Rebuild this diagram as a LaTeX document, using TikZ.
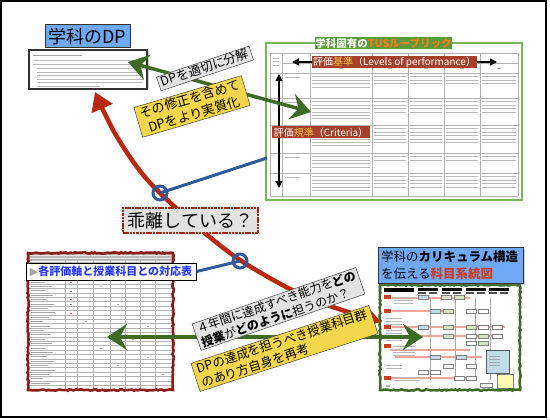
\documentclass[tikz,border=0pt]{standalone}
\usepackage{fontspec}
\setmainfont{Noto Sans CJK JP}
\newfontfamily\dejavu{DejaVu Sans}
\usetikzlibrary{arrows.meta,decorations.pathmorphing,shadows}
\definecolor{dpblue}{HTML}{6FA8F5}
\definecolor{redarc}{HTML}{B8290F}
\definecolor{bluel}{HTML}{2F5B9B}
\definecolor{chalk}{HTML}{3D6B26}
\definecolor{ylab}{HTML}{F3D64B}
\definecolor{glab}{HTML}{E2E2E2}
\definecolor{rgreen}{HTML}{5B9B3C}
\definecolor{rborder}{HTML}{7AB55C}
\definecolor{brick}{HTML}{A5402A}
\definecolor{gold}{HTML}{F6C445}
\definecolor{tusorange}{HTML}{FF7A1A}
\definecolor{tblred}{HTML}{8C1D14}
\definecolor{txtblue}{HTML}{2A3CF0}
\definecolor{kred}{HTML}{D13B1D}
\definecolor{pinkline}{HTML}{EFA59A}
\definecolor{lgreen}{HTML}{D5E5BE}
\definecolor{lblue}{HTML}{BFDCEA}
\begin{document}
\begin{tikzpicture}[x=1pt,y=-1pt,
 txt/.style={gray!55,line width=0.8pt},
 gridl/.style={gray!60,line width=0.4pt},
 graylabel/.style={fill=glab,draw=gray!50!black,line width=0.5pt,inner xsep=3pt,inner ysep=1pt},
 yellowlabel/.style={fill=ylab,draw=gray!50!black,line width=0.5pt,inner xsep=4pt,inner ysep=1.5pt},
 bluebox/.style={fill=dpblue,draw=black!80,line width=1pt},
 redarcstyle/.style={redarc,line width=4.5pt,{Triangle[length=18pt,width=22pt]}-{Triangle[length=18pt,width=22pt]}},
 chalkarrow/.style={chalk,line width=3.5pt,{Stealth[length=20pt,width=26pt,inset=7pt]}-{Stealth[length=20pt,width=26pt,inset=7pt]}},
 ring/.style={draw=bluel,line width=3pt,circle,minimum size=14pt,inner sep=0pt},
 blueline/.style={bluel,line width=3pt},
 bkarrow/.style={black,line width=1.5pt,-{Triangle[length=7pt,width=7pt]}},
 rough/.style={decorate,decoration={random steps,segment length=2pt,amplitude=0.7pt}},
]
\useasboundingbox (0,0) rectangle (550,420);
\fill[white] (0,0) rectangle (550,420);
\draw[line width=2pt] (1,1) rectangle (546,417);

% ---------- DP title and document ----------
\node[bluebox,font=\fontsize{18}{20}\selectfont,minimum width=85pt,minimum height=23pt,inner sep=1pt] (dptitle) at (87.5,36.5) {学科のDP};
\node[draw=gray!40!black,line width=1.2pt,fill=white,minimum width=118pt,minimum height=39pt,inner sep=0pt,
  drop shadow={opacity=0.35,shadow xshift=1.5pt,shadow yshift=-1.5pt}] (dpdoc) at (88,69.5) {};
\draw[gray!70,line width=0.9pt] (33,55) -- (82,55);
\foreach \y in {60.5,64} \draw[txt] (33,\y) -- (143,\y);
\foreach \y in {68.5,72,75.5,79,82.5} \draw[txt] (37,\y) -- (143,\y);
\draw[txt] (37,86) -- (100,86);

% ---------- Rubric ----------
\draw[rborder,line width=1.5pt,fill=white] (266,43) rectangle (522,200);
\foreach \x in {270,282,310,372,408,444,480,518} \draw[gridl] (\x,53) -- (\x,196);
\foreach \y in {53,73,98,125,153,173,196} \draw[gridl] (270,\y) -- (518,\y);
\draw[gridl] (282,63) -- (518,63);
\foreach \y in {58,61.5,65} \draw[txt,line width=0.6pt] (273,\y) -- (279,\y);
\foreach \x in {341,390,426,462,499} \draw[txt,line width=0.6pt] (\x-2,68) -- (\x+2,68);
\foreach \ya/\na/\nb in {73/4/3,98/6/4,125/6/5,153/4/2,173/5/4}{
  \foreach \i in {1,...,\na} \draw[txt] (312,\ya+0.5+3.4*\i) -- (370,\ya+0.5+3.4*\i);
  \foreach \xa/\xb in {372/408,408/444,444/480,480/518}{
    \foreach \i in {1,...,\nb} \draw[txt] (\xa+2,\ya+0.5+3.4*\i) -- (\xb-2,\ya+0.5+3.4*\i);
  }
  \draw[txt] (285,\ya+4) -- (300,\ya+4);
}
\node[fill=rgreen,text=white,font=\bfseries\fontsize{10.5}{12}\selectfont,minimum width=127pt,minimum height=12pt,inner sep=0pt] (rtitle) at (383.5,43.5) {学科固有の\textcolor{tusorange}{TUSルーブリック}};
\node[fill=brick,text=white,font=\fontsize{10}{11}\selectfont,minimum width=165pt,minimum height=12.5pt,inner sep=0pt] (kijun) at (394.5,62) {評価\textcolor{gold}{基準}（Levels of performance）};
\coordinate (kjL) at (292,62);
\coordinate (kjR) at (497,62);
\draw[bkarrow] (kijun.west) -- (kjL);
\draw[bkarrow] (kijun.east) -- (kjR);
\coordinate (vT) at (279,74);
\coordinate (vB) at (279,188);
\draw[black,line width=1.5pt,{Triangle[length=7pt,width=7pt]}-{Triangle[length=7pt,width=7pt]}] (vT) -- (vB);
\node[fill=brick,text=white,font=\fontsize{10}{11}\selectfont,minimum width=98pt,minimum height=12pt,inner sep=0pt] (kihan) at (321,132.5) {評価\textcolor{gold}{規準}（Criteria）};

% ---------- Left table ----------
\fill[white] (28,253) rectangle (173,390);
\fill[gray!55] (29,254) rectangle (172,261);
\foreach \y in {255.5,258} \draw[white!80!gray,line width=0.5pt] (30,\y) -- (171,\y);
\foreach \i in {0,...,28} \draw[gridl,line width=0.3pt] (29,262+4.4*\i) -- (172,262+4.4*\i);
\foreach \x in {65,77,93,110,125,140,155} \draw[gridl,line width=0.3pt] (\x,261) -- (\x,389);
\foreach \i in {0,...,27}{
  \pgfmathsetmacro\w{12+mod(\i*7,13)}
  \draw[gray!70,line width=0.7pt] (31,264.4+4.4*\i) -- (31+\w,264.4+4.4*\i);
}
\foreach \i in {1,3,4,6,8,9,11} \draw[red!70,line width=0.6pt] (70,264.4+4.4*\i) -- (72,264.4+4.4*\i);
\foreach \i/\x in {5/100,9/117,13/85,17/132,19/100,21/147,23/117,25/162,14/147} \draw[gray!60,line width=0.6pt] (\x,264.4+4.4*\i) -- (\x+2,264.4+4.4*\i);
\draw[tblred,line width=2.6pt,rough] (28,253) rectangle (173,390);

% ---------- Curriculum diagram ----------
\fill[white] (380,285) rectangle (520,390);
\fill[black] (384,288) rectangle (414,291.5);
\foreach \x in {418,442,466,489}{
  \fill[black] (\x,288) rectangle (\x+20,290.5);
  \fill[black!70] (\x,292) rectangle (\x+8,294);
  \fill[black!70] (\x+11,292) rectangle (\x+19,294);
}
\foreach \y/\a/\b in {298/392/470,311/392/445,327/392/505,336/392/500,350/390/470,357/395/482,378/390/475}
  \draw[pinkline,line width=1.3pt] (\a,\y) -- (\b,\y);
\foreach \y in {297,311,327,346,378} \fill[kred] (384,\y-2) rectangle (391,\y+2);
\foreach \y in {297,300,303} \draw[txt,line width=0.5pt] (394,\y) -- (413,\y);
\foreach \y in {318,321,324,330,333,340} \draw[txt,line width=0.5pt] (386,\y) -- (402,\y);
\foreach \y in {346,349,352,355} \draw[txt,line width=0.5pt] (393,\y) -- (415,\y);
\foreach \y in {365,368} \draw[txt,line width=0.5pt] (386,\y) -- (402,\y);
\foreach \y in {377,380} \draw[txt,line width=0.5pt] (394,\y) -- (420,\y);
\foreach \x in {430,455,475,490} \draw[gray!70,line width=0.4pt] (\x,298) -- (\x,380);
\foreach \x/\y/\c in {418/297/lblue,441/297/lgreen,454/297/lgreen,430/311/lblue,443/311/lgreen,466/311/white,478/311/white,
  418/327/lblue,443/327/lgreen,466/327/lgreen,478/327/white,492/327/white,
  443/336/lgreen,466/336/white,478/336/lgreen,492/336/white,
  466/343/white,478/343/lgreen,
  430/357/lblue,456/357/lblue,443/366/white,466/366/white,
  418/372/white,430/372/white,454/378/white,466/378/white}
  \draw[gray,line width=0.3pt,fill=\c] (\x,\y-2) rectangle (\x+10,\y+2);
\draw[gray!70!black,fill=lblue,line width=0.4pt] (486,350) rectangle (509,373);
\foreach \y in {356,359,362,365} \draw[gray!70,line width=0.4pt] (489,\y) -- (500,\y);
\draw[gray,fill=yellow!30,line width=0.4pt] (497,374) rectangle (513,388);
\draw[gray,line width=0.4pt] (480,383) rectangle (492,387);
\fill[gray!60] (386,385) rectangle (390,387);
\draw[chalk,line width=2.5pt,rough] (380,285) rectangle (520,390);

% ---------- red curve ----------
\coordinate (rTop) at (95,92);
\coordinate (rBot) at (381,322);
\draw[redarcstyle] plot[smooth,tension=0.55] coordinates {(95,92) (113,130) (137,167) (160,193) (200,229) (240,260) (290,289) (330,306) (381,322)};

% ---------- green arrows ----------
\coordinate (gA1) at (128,62);
\coordinate (gA2) at (311,112);
\coordinate (gB1) at (107,337);
\coordinate (gB2) at (423,337);
\draw[chalkarrow] (gA1) -- (gA2);
\draw[chalkarrow] (gB1) -- (gB2);

% ---------- blue links and rings ----------
\coordinate (c1) at (160,193);
\coordinate (c2) at (240,261);
\coordinate (rubL) at (267,158);
\node[draw=black,line width=1pt,fill=white,font=\bfseries\fontsize{11}{13}\selectfont,text=txtblue,minimum width=170pt,minimum height=17pt,inner sep=1pt] (taiou) at (111,271.5) {{\dejavu\mdseries\color{gray!70}▶}各評価軸と授業科目との対応表};
\draw[blueline] (c1) -- (rubL);
\draw[blueline] (c2) -- (taiou.east);
\node[ring] (r1) at (c1) {};
\node[ring] (r2) at (c2) {};

% ---------- labels ----------
\node[graylabel,rotate=18.5,font=\fontsize{12.5}{14}\selectfont,text height=10pt,text depth=2.5pt] (lblA) at (205,68.5) {DPを適切に分解};
\node[yellowlabel,rotate=16.5,align=center,font=\fontsize{13}{16}\selectfont] (lblB) at (192,106.5) {その修正を含めて\\DPをより実質化};
\node[draw=redarc!90!black,line width=2pt,dash pattern=on 2.5pt off 0.8pt,fill=glab,font=\fontsize{18}{20}\selectfont,minimum width=135pt,minimum height=25pt,inner sep=1pt] (kairi) at (190.5,220.5) {乖離している？};
\node[graylabel,rotate=19,align=left,font=\fontsize{12}{14.5}\selectfont] (lblC) at (278.5,309) {４年間に達成すべき能力を\textbf{どの}\\\textbf{授業}が\textbf{どのように}担うのか？};
\node[yellowlabel,rotate=18,align=left,font=\fontsize{12.5}{15}\selectfont] (lblD) at (284.5,348.5) {DPの達成を担うべき授業科目群\\のあり方自身を再考};
\node[bluebox,align=left,font=\fontsize{12.5}{17}\selectfont,minimum width=145pt,minimum height=36pt,inner sep=2pt,text width=139pt,
  drop shadow={opacity=0.35,shadow xshift=1.5pt,shadow yshift=-1.5pt}] (curtitle) at (450.5,265) {学科の\textbf{カリキュラム構造}\\を伝える\textcolor{kred}{\textbf{科目系統図}}};
\end{tikzpicture}
\end{document}
